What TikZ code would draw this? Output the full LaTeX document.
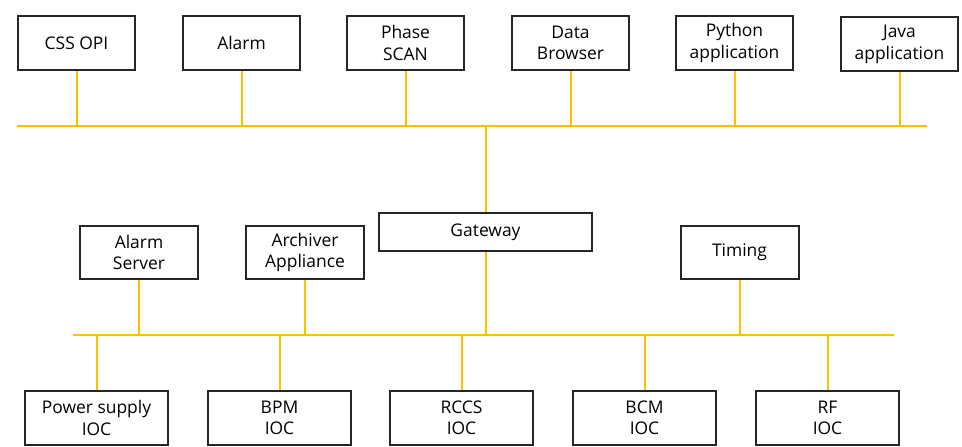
\documentclass[tikz,border=0pt]{standalone}
\usepackage{fontspec}
\setmainfont{Open Sans}
\usetikzlibrary{calc,positioning}
\definecolor{busyellow}{HTML}{FFC000}
\definecolor{boxline}{HTML}{262626}

\tikzset{
  box/.style={draw=boxline, line width=2bp, fill=white, inner sep=0pt, align=center,
    font=\fontsize{17.5}{21.5}\selectfont},
  appbox/.style={box, minimum width=117bp, minimum height=54bp},
  srvbox/.style={box, minimum width=118bp, minimum height=53bp},
  iocbox/.style={box, minimum width=143bp, minimum height=54bp},
  bus/.style={draw=busyellow, line width=2bp}
}

\begin{document}
\begin{tikzpicture}[x=1bp,y=-1bp]
    \useasboundingbox (0,0) rectangle (962,447);
    % Applications (top row)
    \node[appbox] (opi) at (76.5,43) {CSS OPI};
    \node[appbox] (alarm) at (241.5,43) {Alarm};
    \node[appbox] (scan) at (405.5,43) {Phase\\SCAN};
    \node[appbox] (browser) at (570.5,43) {Data\\Browser};
    \node[appbox] (python) at (734.5,43) {Python\\application};
    \node[appbox] (java) at (899.5,44.5) {Java\\application};
    % Top bus
    \coordinate (topL) at (17,126);
    \coordinate (topR) at (927,126);
    \draw[bus] (topL) -- (topR);
    \foreach \n in {opi,alarm,scan,browser,python,java} {
        \draw[bus] (\n.south) -- (\n.south |- topL);
    }
    % Gateway and servers
    \node[box, minimum width=213bp, minimum height=38bp] (gw) at (485.5,232) {Gateway};
    \node[srvbox] (alsrv) at (139,252.5) {Alarm\\Server};
    \node[srvbox] (arch) at (305,252.5) {Archiver\\Appliance};
    \node[srvbox] (timing) at (739.5,252.5) {Timing};
    % Lower bus
    \coordinate (lowL) at (73,335.5);
    \coordinate (lowR) at (894,335.5);
    \draw[bus] (lowL) -- (lowR);
    \draw[bus] (gw.north) -- (gw.north |- topL);
    \foreach \n in {gw,alsrv,arch,timing} {
        \draw[bus] (\n.south) -- (\n.south |- lowL);
    }
    % IOCs (bottom row)
    \node[iocbox] (ps) at (96.5,418) {Power supply\\IOC};
    \node[iocbox] (bpm) at (279.5,418) {BPM\\IOC};
    \node[iocbox] (rccs) at (461.5,418) {RCCS\\IOC};
    \node[iocbox] (bcm) at (644.5,418) {BCM\\IOC};
    \node[iocbox] (rf) at (827.5,418) {RF\\IOC};
    \foreach \n in {ps,bpm,rccs,bcm,rf} {
        \draw[bus] (\n.north) -- (\n.north |- lowL);
    }
\end{tikzpicture}
\end{document}
